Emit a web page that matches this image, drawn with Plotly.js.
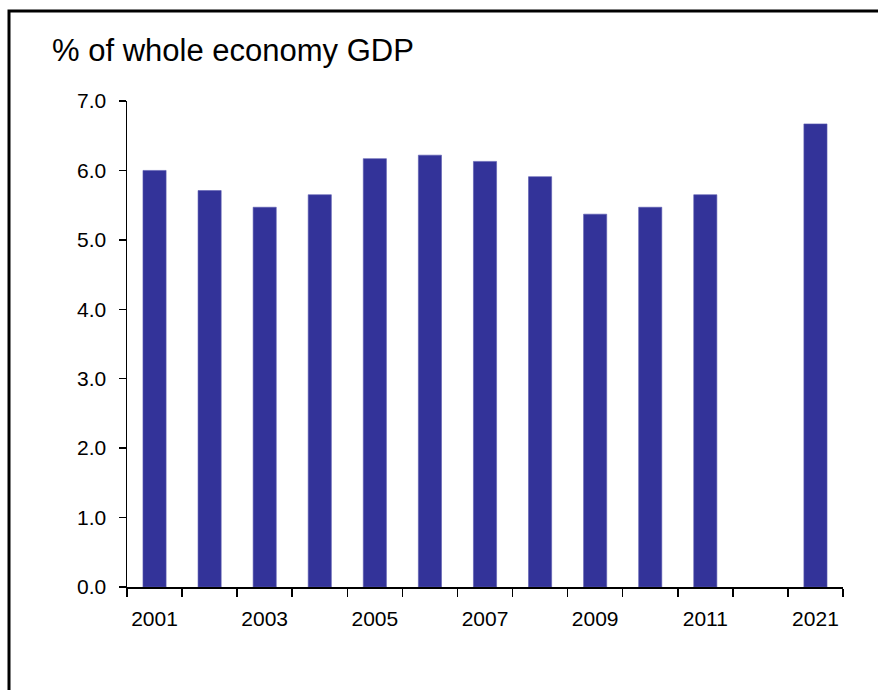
<!DOCTYPE html>
<html>
<head>
<meta charset="utf-8">
<script src="https://cdn.plot.ly/plotly-3.0.1.min.js"></script>
<style>html,body{margin:0;padding:0;background:#fff;}#chart{width:878px;height:690px;}</style>
</head>
<body>
<div id="chart"></div>
<script>
// Data
const categories = ['2001','2002','2003','2004','2005','2006','2007','2008','2009','2010','2011',' ','2021'];
const values     = [6.00, 5.71, 5.47, 5.65, 6.17, 6.22, 6.13, 5.91, 5.37, 5.47, 5.65, null, 6.67];
const tickLabels = ['2001','','2003','','2005','','2007','','2009','','2011','','2021'];
const yTicks     = [0,1,2,3,4,5,6,7];
const titleText  = '% of whole economy GDP';

const W = 878, H = 690;
const L = 127, R = 35, T = 101, B = 103;
const pw = W - L - R, ph = H - T - B;
const px = v => (v - L) / pw;
const py = v => (H - B - v) / ph;

const trace = {
  type: 'bar',
  x: categories,
  y: values,
  marker: {color: '#333399', line: {color: '#5a5ab0', width: 0.6}},
  hoverinfo: 'x+y'
};

const layout = {
  width: W, height: H,
  margin: {l: L, r: R, t: T, b: B, pad: 0},
  paper_bgcolor: '#fff', plot_bgcolor: '#fff',
  font: {family: '"Liberation Sans", Arial, sans-serif', color: '#000'},
  showlegend: false,
  bargap: 0.58,
  title: {
    text: titleText,
    font: {size: 31, family: '"Liberation Sans", Arial, sans-serif', color: '#000'},
    xref: 'container', yref: 'container',
    x: 52 / W, xanchor: 'left',
    y: 1 - 50 / H, yanchor: 'middle'
  },
  xaxis: {
    type: 'category',
    categoryorder: 'array', categoryarray: categories,
    tickmode: 'array', tickvals: categories, ticktext: tickLabels,
    tickson: 'boundaries',
    tickangle: 0,
    ticks: 'outside', ticklen: 8, tickwidth: 1.5, tickcolor: '#000',
    showline: true, linecolor: '#000', linewidth: 1.5,
    showgrid: false, zeroline: false,
    tickfont: {size: 21, color: '#000'},
    ticklabelstandoff: 12,
    fixedrange: true
  },
  yaxis: {
    range: [0, 7],
    tickmode: 'array', tickvals: yTicks,
    tickformat: '.1f',
    ticks: 'outside', ticklen: 7, tickwidth: 1.5, tickcolor: '#000',
    showline: true, linecolor: '#000', linewidth: 1.5,
    showgrid: false, zeroline: false,
    tickfont: {size: 21, color: '#000'},
    ticklabelstandoff: 8,
    fixedrange: true
  },
  shapes: [{
    type: 'rect', xref: 'paper', yref: 'paper',
    x0: px(9), x1: px(900), y0: py(720), y1: py(11),
    line: {color: '#000', width: 3}, fillcolor: 'rgba(0,0,0,0)', layer: 'below'
  }]
};

Plotly.newPlot('chart', [trace], layout, {displayModeBar: false, staticPlot: true});
</script>
</body>
</html>
